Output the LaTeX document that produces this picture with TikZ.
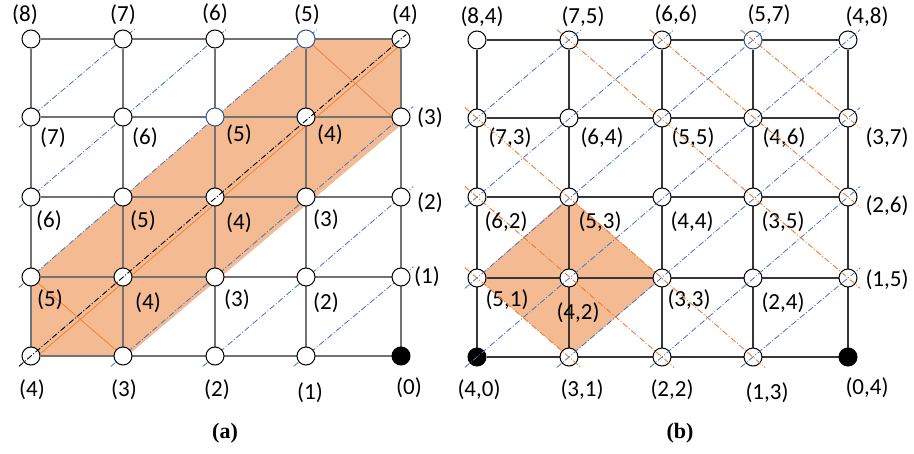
\documentclass[tikz,border=0pt]{standalone}
\usepackage{fontspec}
\setmainfont{Carlito}
\newfontfamily\capfont{Liberation Serif}
\usetikzlibrary{calc}
\definecolor{shadec}{RGB}{244,186,146}
\definecolor{oline}{RGB}{237,125,49}
\definecolor{bline}{RGB}{68,114,196}
\definecolor{bcirc}{RGB}{47,85,151}
\definecolor{gridA}{RGB}{115,115,115}
\definecolor{gridB}{RGB}{55,55,55}
\pgfdeclarelayer{bg}
\pgfdeclarelayer{fg}
\pgfsetlayers{bg,main,fg}
\tikzset{
  pt/.style={circle,draw=black,fill=white,minimum size=18pt,inner sep=0pt,line width=1pt},
  lbl/.style={inner sep=0pt,font=\fontsize{23}{26}\selectfont},
  captext/.style={inner sep=0pt,font=\fontsize{22}{25}\selectfont\capfont\bfseries},
  gridline/.style={line width=1.1pt},
  bdash/.style={bline,line width=0.8pt,dash pattern=on 6pt off 2pt on 1pt off 2pt},
  odash/.style={oline,line width=0.9pt,dash pattern=on 6pt off 2pt on 1pt off 2pt},
  kdash/.style={black,line width=0.9pt,dash pattern=on 6pt off 2pt on 1pt off 2pt},
  othin/.style={oline,line width=0.7pt},
  st-a-3-0/.style={draw=bcirc},
  st-a-2-1/.style={draw=bcirc},
  st-a-4-4/.style={fill=black},
  st-b-3-0/.style={draw=bcirc},
  st-b-0-4/.style={fill=black},
  st-b-4-4/.style={fill=black},
}
\begin{document}
\begin{tikzpicture}[x=1pt,y=-1pt]
\useasboundingbox (0,0) rectangle (914,453);
% nodes panel (a)
\foreach \c/\x in {0/31,1/123,2/215,3/306,4/401}
  \foreach \r/\y in {0/39,1/117,2/197,3/277,4/356}
    \node[pt,st-a-\c-\r/.try] (a-\c-\r) at (\x,\y) {};
% nodes panel (b)
\foreach \c/\x in {0/477,1/569,2/662,3/753,4/848}
  \foreach \r/\y in {0/40,1/118,2/197,3/278,4/357}
    \node[pt,st-b-\c-\r/.try] (b-\c-\r) at (\x,\y) {};
% labels (a)
\foreach \c/\r/\x/\y/\t in {
  0/0/25/15/8, 1/0/123/15/7, 2/0/215/14/6, 3/0/307/15/5, 4/0/405/15/4,
  0/1/53/138/7, 1/1/145/138/6, 2/1/239/135/5, 3/1/330/135/4, 4/1/430/118/3,
  0/2/49/221/6, 1/2/143/221/5, 2/2/239/223/4, 3/2/326/220/3, 4/2/430/203/2,
  0/3/50/300/5, 1/3/148/303/4, 2/3/237/300/3, 3/3/326/303/2, 4/3/427/277/1,
  0/4/32/390/4, 1/4/124/390/3, 2/4/217/390/2, 3/4/310/393/1, 4/4/409/388/0}
  \node[lbl] (la-\c-\r) at (\x,\y) {(\t)};
% labels (b)
\foreach \c/\r/\x/\y/\p/\q in {
  0/0/482/17/8/4, 1/0/583/17/7/5, 2/0/676/15/6/6, 3/0/769/15/5/7, 4/0/867/17/4/8,
  0/1/510/138/7/3, 1/1/602/138/6/4, 2/1/693/138/5/5, 3/1/784/138/4/6, 4/1/887/138/3/7,
  0/2/506/222/6/2, 1/2/600/222/5/3, 2/2/692/222/4/4, 3/2/783/222/3/5, 4/2/887/206/2/6,
  0/3/507/300/5/1, 1/3/578/313/4/2, 2/3/689/300/3/3, 3/3/783/303/2/4, 4/3/887/280/1/5,
  0/4/479/390/4/0, 1/4/582/390/3/1, 2/4/672/390/2/2, 3/4/767/393/1/3, 4/4/867/388/0/4}
  \node[lbl] (lb-\c-\r) at (\x,\y) {(\p,\q)};
\node[captext] (capa) at (225,433) {(a)};
\node[captext] (capb) at (680,433) {(b)};
\begin{pgfonlayer}{bg}
  % shaded regions
  \fill[shadec] (a-0-3.center) -- (a-3-0.center) -- (a-4-0.center)
     -- ([yshift=-8pt]a-4-1.center) -- ([xshift=4pt]a-1-4.center) -- (a-0-4.center) -- cycle;
  \fill[shadec] (b-0-3.center) -- (b-1-2.center) -- (b-2-3.center) -- (b-1-4.center) -- cycle;
  % grids
  \foreach \r in {0,...,4} {
    \draw[gridline,gridA] (a-0-\r) -- (a-4-\r);
    \draw[gridline,gridA] (a-\r-0) -- (a-\r-4);
    \draw[gridline,gridB] (b-0-\r) -- (b-4-\r);
    \draw[gridline,gridB] (b-\r-0) -- (b-\r-4);
  }
  % blue lines (a)
  \foreach \s/\e in {a-0-1/a-1-0, a-0-2/a-2-0, a-0-3/a-3-0, a-1-4/a-4-1, a-2-4/a-4-2, a-3-4/a-4-3}
    \draw[bdash] ($(\s)!-16pt!(\e)$) -- ($(\e)!-16pt!(\s)$);
  % orange thin lines (a)
  \draw[othin] ([shift={(3,3)}]a-0-4.center) -- ([shift={(3,3)}]a-4-0.center);
  \draw[othin] (a-0-3.center) -- (a-1-4.center);
  \draw[othin] (a-3-0.center) -- ([yshift=-8pt]a-4-1.center);
\end{pgfonlayer}
\begin{pgfonlayer}{fg}
  \draw[kdash] ($(a-0-4)!-16pt!(a-4-0)$) -- ($(a-4-0)!-7pt!(a-0-4)$);
  % blue lines (b), constant first index
  \foreach \s/\e in {b-0-1/b-1-0, b-0-2/b-2-0, b-0-3/b-3-0, b-0-4/b-4-0, b-1-4/b-4-1, b-2-4/b-4-2, b-3-4/b-4-3}
    \draw[bdash] ($(\s)!-16pt!(\e)$) -- ($(\e)!-16pt!(\s)$);
  % orange lines (b), constant second index
  \foreach \s/\e in {b-0-3/b-1-4, b-0-2/b-2-4, b-0-1/b-3-4, b-1-0/b-4-3, b-2-0/b-4-2, b-3-0/b-4-1}
    \draw[odash] ($(\s)!-16pt!(\e)$) -- ($(\e)!-16pt!(\s)$);
\end{pgfonlayer}
\end{tikzpicture}
\end{document}
